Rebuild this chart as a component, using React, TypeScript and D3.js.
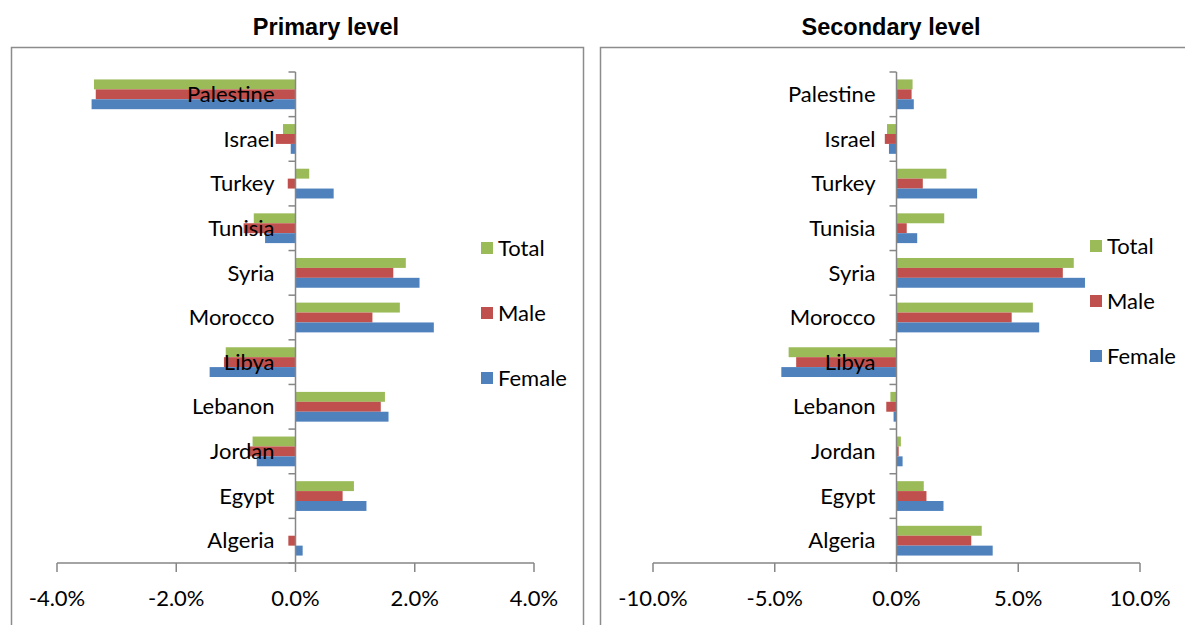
import React, { useEffect, useRef } from 'react';
import * as d3 from 'd3';

// categories top to bottom, as shown
const countries = ['Palestine', 'Israel', 'Turkey', 'Tunisia', 'Syria', 'Morocco', 'Libya', 'Lebanon', 'Jordan', 'Egypt', 'Algeria'];
const seriesNames = ['Total', 'Male', 'Female'];
const seriesColors = ['#9BBB59', '#C0504D', '#4F81BD'];

// Primary level (%)
const primaryTotal = [-3.38, -0.21, 0.23, -0.70, 1.85, 1.75, -1.17, 1.50, -0.72, 0.98, 0.0];
const primaryMale = [-3.35, -0.33, -0.13, -0.87, 1.64, 1.29, -1.2, 1.43, -0.79, 0.79, -0.12];
const primaryFemale = [-3.42, -0.08, 0.64, -0.51, 2.08, 2.32, -1.44, 1.56, -0.65, 1.19, 0.12];

// Secondary level (%)
const secondaryTotal = [0.66, -0.39, 2.05, 1.96, 7.28, 5.6, -4.43, -0.25, 0.18, 1.12, 3.5];
const secondaryMale = [0.62, -0.48, 1.08, 0.42, 6.83, 4.73, -4.12, -0.42, 0.09, 1.23, 3.07];
const secondaryFemale = [0.71, -0.31, 3.31, 0.85, 7.74, 5.86, -4.73, -0.12, 0.25, 1.93, 3.95];

const primaryTicks = [-4, -2, 0, 2, 4];
const secondaryTicks = [-10, -5, 0, 5, 10];

const labelFont = 'Lato, "Open Sans", sans-serif';
const titleFont = '"Liberation Sans", Arial, sans-serif';

const App = () => {
  const ref = useRef<SVGSVGElement>(null);

  useEffect(() => {
    const svg = d3.select(ref.current);
    svg.selectAll('*').remove();

    const y = d3.scaleBand<string>().domain(countries).range([72, 563]).padding(0);
    const step = y.step();
    const barH = step / 4.5;
    const fmt = (d: number) => d.toFixed(1) + '%'; // plain hyphen like Excel

    const drawPanel = (opts) => {
      const { frameX, frameW, title, titleX, domain, range, ticks, series, legendX, legendY } = opts;
      const x = d3.scaleLinear().domain(domain).range(range);
      const x0 = x(0);

      // frame
      svg.append('rect')
        .attr('x', frameX + 0.5)
        .attr('y', 47.5)
        .attr('width', frameW)
        .attr('height', 640)
        .attr('fill', '#fff')
        .attr('stroke', '#8c8c8c')
        .attr('stroke-width', 1.5);

      svg.append('text')
        .attr('x', titleX)
        .attr('y', 35)
        .attr('text-anchor', 'middle')
        .style('font-family', titleFont)
        .style('font-weight', 'bold')
        .style('font-size', '23.5px')
        .text(title);

      // bars
      series.forEach((vals, si) => {
        svg.append('g')
          .selectAll('rect')
          .data(vals)
          .enter()
          .append('rect')
          .attr('x', d => Math.min(x(d), x0))
          .attr('y', (d, i) => y(countries[i]) + (step - 3 * barH) / 2 + si * barH)
          .attr('width', d => Math.abs(x(d) - x0))
          .attr('height', barH)
          .attr('fill', seriesColors[si]);
      });

      // category axis
      const axisColor = '#868686';
      svg.append('line')
        .attr('x1', x0).attr('x2', x0)
        .attr('y1', 72).attr('y2', 563)
        .attr('stroke', axisColor).attr('stroke-width', 1.5);
      const bounds = countries.map(c => y(c)).concat([563]);
      svg.append('g')
        .selectAll('line')
        .data(bounds)
        .enter()
        .append('line')
        .attr('x1', x0 - 7).attr('x2', x0)
        .attr('y1', d => d).attr('y2', d => d)
        .attr('stroke', axisColor).attr('stroke-width', 1.5);

      svg.append('g')
        .selectAll('text')
        .data(countries)
        .enter()
        .append('text')
        .attr('x', x0 - 21)
        .attr('y', d => y(d) + step / 2)
        .attr('dy', '0.35em')
        .attr('text-anchor', 'end')
        .style('font-family', labelFont)
        .style('font-size', '22px')
        .style('fill', '#000')
        .text(d => d);

      // value axis
      svg.append('line')
        .attr('x1', range[0]).attr('x2', range[1])
        .attr('y1', 563).attr('y2', 563)
        .attr('stroke', axisColor).attr('stroke-width', 1.5);
      svg.append('g')
        .selectAll('line')
        .data(ticks)
        .enter()
        .append('line')
        .attr('x1', d => x(d)).attr('x2', d => x(d))
        .attr('y1', 563).attr('y2', 572)
        .attr('stroke', axisColor).attr('stroke-width', 1.5);
      svg.append('g')
        .selectAll('text')
        .data(ticks)
        .enter()
        .append('text')
        .attr('x', d => x(d))
        .attr('y', 598)
        .attr('dy', '0.35em')
        .attr('text-anchor', 'middle')
        .style('font-family', labelFont)
        .style('font-size', '22px')
        .text(d => fmt(d));

      // legend
      seriesNames.forEach((name, si) => {
        const ly = legendY[si];
        svg.append('rect')
          .attr('x', legendX)
          .attr('y', ly - 6)
          .attr('width', 12)
          .attr('height', 12)
          .attr('fill', seriesColors[si]);
        svg.append('text')
          .attr('x', legendX + 17)
          .attr('y', ly)
          .attr('dy', '0.35em')
          .style('font-family', labelFont)
          .style('font-size', '22px')
          .text(name);
      });
    };

    drawPanel({
      frameX: 11, frameW: 572, title: 'Primary level', titleX: 326,
      domain: [-4, 4], range: [57, 534], ticks: primaryTicks,
      series: [primaryTotal, primaryMale, primaryFemale],
      legendX: 481, legendY: [248, 313, 378],
    });
    drawPanel({
      frameX: 600, frameW: 640, title: 'Secondary level', titleX: 891,
      domain: [-10, 10], range: [653, 1140], ticks: secondaryTicks,
      series: [secondaryTotal, secondaryMale, secondaryFemale],
      legendX: 1090, legendY: [246, 301, 356],
    });
  }, []);

  return (
    <svg
      ref={ref}
      width={1185}
      height={625}
      style={{ position: 'absolute', left: 0, top: 0, background: '#fff' }}
    />
  );
};

export default App;
